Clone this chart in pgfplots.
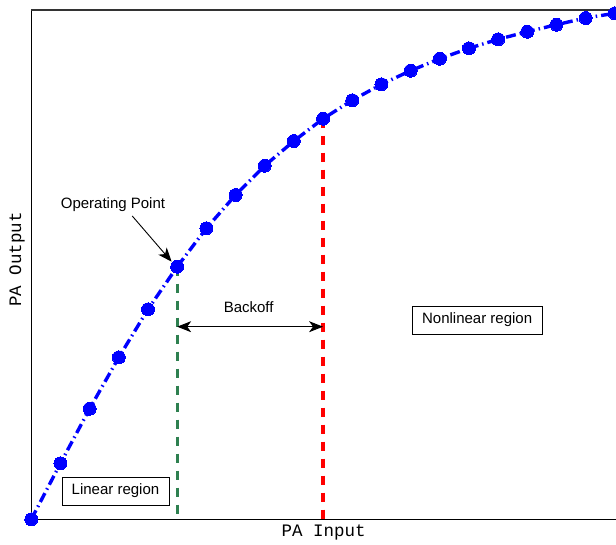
\documentclass[border=0pt]{standalone}
\usepackage{fontspec}
\setmainfont{Liberation Sans}
\newfontfamily\monofont{Liberation Mono}
\usepackage{pgfplots}
\pgfplotsset{compat=1.18}
\usetikzlibrary{arrows.meta}
\definecolor{opgreen}{RGB}{46,128,80}
\begin{document}
\begin{tikzpicture}
\begin{axis}[
  name=ax,
  scale only axis,
  width=584.7pt, height=509.3pt,
  xmin=0, xmax=20.04, ymin=0, ymax=509.3,
  axis lines=left,
  axis line style={-, line width=1pt, black},
  xtick=\empty, ytick=\empty,
  clip=false,
  xlabel={\monofont\fontsize{17.5}{20}\selectfont PA Input},
  ylabel={\monofont\fontsize{17.5}{20}\selectfont PA Output},
  x label style={at={(axis description cs:0.5,-0.0255)}, anchor=center},
  y label style={at={(axis description cs:-0.0245,0.51)}, anchor=center, rotate=0},
]
\draw[line width=1.2pt, black!80] (rel axis cs:0,1) -- (rel axis cs:1,1);
\addplot[opgreen, line width=3.2pt, dash pattern=on 9pt off 8pt] coordinates {(5,252.6) (5,0)};
\addplot[red, line width=3.2pt, dash pattern=on 9pt off 8pt] coordinates {(10,400.6) (10,0)};
\addplot[blue, line width=3.4pt, dash pattern=on 10pt off 4pt on 1.5pt off 4pt,
  mark=*, mark size=6.5pt, mark options={solid, fill=blue, draw=blue, line width=0pt}] coordinates {
(0,0) (1,56) (2,110.6) (3,162) (4,210) (5,252.6) (6,291) (7,324.3) (8,353.6) (9,378.3)
(10,400.6) (11,419) (12,435) (13,448.6) (14,460.6) (15,471) (16,480) (17,487.6)
(18,494.6) (19,501.3) (20,506)};
\draw[line width=0.9pt, {Stealth[length=14pt,width=11pt,inset=4pt]}-{Stealth[length=14pt,width=11pt,inset=4pt]}]
  (axis cs:5,192.6) -- (axis cs:10,192.6);
\node[anchor=base, font=\fontsize{15}{18}\selectfont] at (axis cs:7.45,206.6) {Backoff};
\draw[line width=0.9pt, -{Stealth[length=14pt,width=11pt,inset=4pt]}]
  (axis cs:3.46,303.3) -- (axis cs:4.81,257.6);
\node[anchor=base, font=\fontsize{15}{18}\selectfont] at (axis cs:2.80,310.3) {Operating Point};
\node[draw, line width=0.9pt, fill=white, minimum width=107pt, minimum height=28pt, inner sep=0pt,
  font=\fontsize{15}{18}\selectfont] at (axis cs:2.886,28.3) {Linear region};
\node[draw, line width=0.9pt, fill=white, minimum width=130pt, minimum height=28pt, inner sep=0pt,
  font=\fontsize{15}{18}\selectfont] at (axis cs:15.28,199.3) {Nonlinear region};
\end{axis}
\pgfresetboundingbox
\path[use as bounding box] (ax.south west) ++(-31.3pt,-24.7pt) rectangle ++(616pt,544pt);
\end{tikzpicture}
\end{document}
